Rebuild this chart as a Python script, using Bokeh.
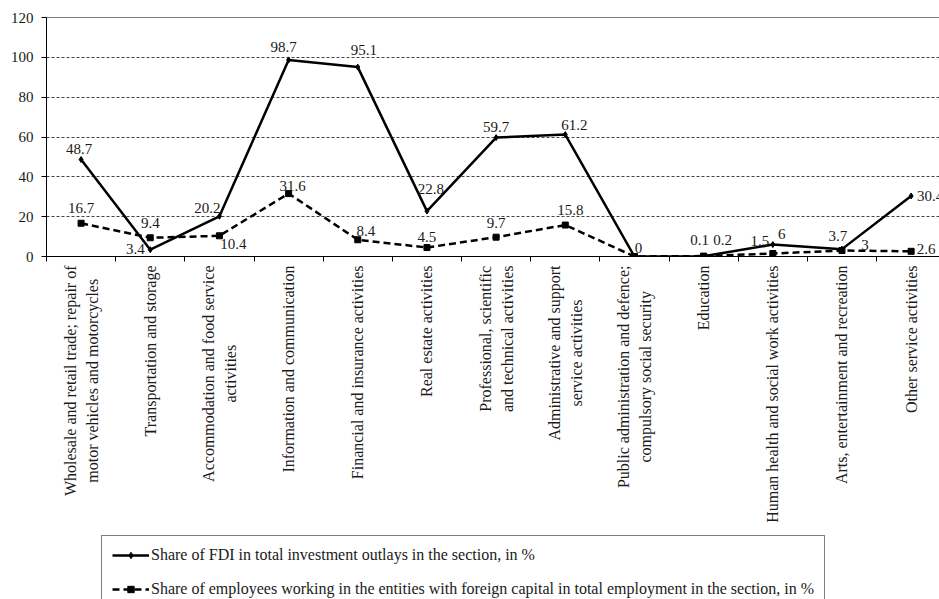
import numpy as np
from bokeh.plotting import figure
from bokeh.layouts import column
from bokeh.models import (ColumnDataSource, Range1d, FixedTicker, Span,
                          Legend, LegendItem)
from bokeh.core.properties import value
from bokeh.embed import file_html
from bokeh.resources import INLINE

# Sections of the economy (service sections)
sections = [
    "Wholesale and retail trade; repair of\nmotor vehicles and motorcycles",
    "Transportation and storage",
    "Accommodation and food service\nactivities",
    "Information and communication",
    "Financial and insurance activities",
    "Real estate activities",
    "Professional, scientific\nand technical activities",
    "Administrative and support\nservice activities",
    "Public administration and defence;\ncompulsory social security",
    "Education",
    "Human health and social work activities",
    "Arts, entertainment and recreation",
    "Other service activities",
]

# Share of FDI in total investment outlays, %
fdi_share = [48.7, 3.4, 20.2, 98.7, 95.1, 22.8, 59.7, 61.2, 0, 0.1, 6, 3.7, 30.4]
# Share of employees in entities with foreign capital, %
employment_share = [16.7, 9.4, 10.4, 31.6, 8.4, 4.5, 9.7, 15.8, 0, 0.2, 1.5, 3, 2.6]

y_ticks = [0, 20, 40, 60, 80, 100, 120]

series_names = [
    "Share of FDI in total investment outlays in the section, in %",
    "Share of employees working in the entities with foreign capital in total employment in the section, in %",
]

# pixel nudges for the value labels (x right, y down)
fdi_dx = [-2, -15, -12, -5, 6, 4, 0, 9, 4, -4, 9, -4, 19]
fdi_dy = [-11, -1, -8, -13, -17, -22, -11, -10, -9, -16, -11, -13, 0]
emp_dx = [0, 0, 14, 4, 8, 0, 0, 5, 4, 19, -13, 23, 15]
emp_dy = [-15, -15, 8, -8, -9, -11, -14, -15, -9, -16, -13, -6, -2]

FONT = "Liberation Serif"
INK = "#1a1a1a"
W = 939
TOP_H = 264
BOTTOM_H = 599 - TOP_H

x = [i + 0.5 for i in range(len(sections))]
x_range = Range1d(0, 12.91)

# ---- main chart -------------------------------------------------------
p = figure(width=W, height=TOP_H, output_backend="svg", toolbar_location=None,
           x_range=x_range, y_range=Range1d(0, 120),
           min_border_left=46, min_border_right=0, min_border_top=17,
           min_border_bottom=8)
p.outline_line_color = None

p.yaxis.ticker = FixedTicker(ticks=y_ticks)
p.yaxis.major_tick_out = 5
p.yaxis.major_tick_in = 0
p.yaxis.minor_tick_out = 0
p.yaxis.axis_line_color = "black"
p.yaxis.major_tick_line_color = "black"
p.yaxis.major_label_text_font = FONT
p.yaxis.major_label_text_font_size = "15px"
p.yaxis.major_label_text_color = INK
p.yaxis.major_label_standoff = 8

p.xaxis.ticker = FixedTicker(ticks=list(range(len(sections) + 1)))
p.xaxis.major_label_text_font_size = "0px"
p.xaxis.major_label_standoff = 0
p.xaxis.major_tick_out = 5
p.xaxis.major_tick_in = 0
p.xaxis.minor_tick_out = 0
p.xaxis.axis_line_color = "black"
p.xaxis.major_tick_line_color = "black"

p.xgrid.visible = False
p.ygrid.ticker = FixedTicker(ticks=[20, 40, 60, 80, 100])
p.ygrid.grid_line_color = "#444444"
p.ygrid.grid_line_dash = "3 2"
p.ygrid.grid_line_width = 1

p.add_layout(Span(location=120, dimension="width", line_color="black", line_width=1))

fdi_labels = [f"{v:g}" for v in fdi_share]
# a coinciding employment value shares the FDI label
emp_labels = ["" if e == f else f"{e:g}" for e, f in zip(employment_share, fdi_share)]

fdi_src = ColumnDataSource(dict(x=x, y=fdi_share, label=fdi_labels, dx=fdi_dx, dy=fdi_dy))
emp_src = ColumnDataSource(dict(x=x, y=employment_share, label=emp_labels, dx=emp_dx, dy=emp_dy))

line_styles = [dict(line_color="black", line_width=2.5),
               dict(line_color="black", line_width=2.5, line_dash="7 4")]
marker_styles = [dict(marker="diamond", size=6, fill_color="black", line_color="black"),
                 dict(marker="square", size=6, fill_color="black", line_color="black")]

for src, ls, ms in zip((fdi_src, emp_src), line_styles, marker_styles):
    p.line("x", "y", source=src, **ls)
    p.scatter("x", "y", source=src, **ms)

for src in (fdi_src, emp_src):
    p.text("x", "y", text="label", source=src, x_offset="dx", y_offset="dy",
           text_align="center", text_baseline="middle",
           text_font=value(FONT), text_font_size="15px", text_color=INK)

# ---- category names and legend ----------------------------------------
q = figure(width=W, height=BOTTOM_H, output_backend="svg", toolbar_location=None,
           x_range=x_range, y_range=Range1d(BOTTOM_H, 0),
           x_axis_location=None, y_axis_location=None,
           min_border_left=46, min_border_right=0, min_border_top=0,
           min_border_bottom=0)
q.outline_line_color = None
q.grid.visible = False

name_src = ColumnDataSource(dict(x=x, y=[1] * len(sections), name=sections))
q.text("x", "y", text="name", source=name_src, angle=np.pi / 2,
       anchor="center_right", text_align="center",
       text_font=value(FONT), text_font_size="16px", text_color=INK,
       text_line_height=1.3)

# legend swatches: renderers holding a single empty (NaN) point
legend_renderers = []
for ls, ms in zip(line_styles, marker_styles):
    blank = ColumnDataSource(dict(x=np.array([np.nan]), y=np.array([np.nan])))
    r1 = q.line("x", "y", source=blank, **ls)
    r2 = q.scatter("x", "y", source=blank, **ms)
    legend_renderers.append([r1, r2])

legend = Legend(items=[LegendItem(label=n, renderers=r)
                       for n, r in zip(series_names, legend_renderers)],
                location=(55, -10), padding=10, spacing=16, margin=0,
                glyph_width=37, glyph_height=16, label_height=16, label_standoff=2,
                label_text_font=FONT, label_text_font_size="16px",
                label_text_color=INK, border_line_color="black",
                border_line_width=1, background_fill_color="white",
                background_fill_alpha=1)
q.add_layout(legend)

layout = column(p, q, spacing=0)
open("out.html", "w").write(file_html(layout, INLINE))
